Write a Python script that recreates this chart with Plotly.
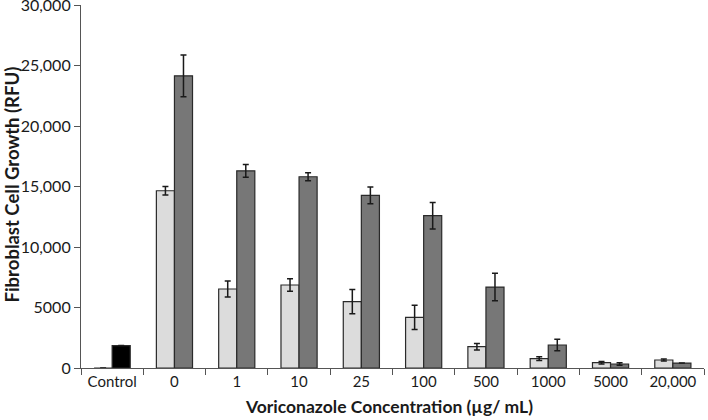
import plotly.graph_objects as go

categories = ["Control", "0", "1", "10", "25", "100", "500", "1000", "5000", "20,000"]
light_vals = [0, 14650, 6530, 6860, 5480, 4190, 1760, 770, 440, 660]
light_err = [0, 360, 660, 510, 1000, 1000, 275, 150, 100, 90]
dark_vals = [1850, 24150, 16300, 15810, 14270, 12590, 6690, 1900, 330, 410]
dark_err = [0, 1720, 530, 330, 690, 1100, 1140, 470, 100, 0]
dark_colors = ["#000000"] + ["#777777"] * 9

y_tickvals = [0, 5000, 10000, 15000, 20000, 25000, 30000]
y_ticktext = ["0", "5000", "10,000", "15,000", "20,000", "25,000", "30,000"]

font_family = "Lato, 'Open Sans', sans-serif"

fig = go.Figure()
fig.add_trace(go.Bar(
    x=categories, y=light_vals,
    marker=dict(color="#DCDCDC", line=dict(color="#2a2a2a", width=1.2)),
    error_y=dict(type="data", array=light_err, visible=True, color="#1a1a1a", thickness=1.5, width=3),
    showlegend=False,
))
fig.add_trace(go.Bar(
    x=categories, y=dark_vals,
    marker=dict(color=dark_colors, line=dict(color="#2a2a2a", width=1.2)),
    error_y=dict(type="data", array=dark_err, visible=True, color="#1a1a1a", thickness=1.5, width=3),
    showlegend=False,
))

fig.update_layout(
    width=708, height=420,
    margin=dict(l=81, r=4, t=5, b=52),
    paper_bgcolor="white", plot_bgcolor="white",
    barmode="group", bargap=0.42, bargroupgap=0,
    font=dict(family=font_family, size=15, color="#1a1a1a"),
    xaxis=dict(
        type="category", automargin=False,
        showline=True, linecolor="#555555", linewidth=1.2,
        ticks="outside", ticklen=6, tickcolor="#555555",
        tickson="boundaries",
        showgrid=False,
        tickfont=dict(size=15),
    ),
    yaxis=dict(
        range=[0, 30005], automargin=False,
        tickvals=y_tickvals, ticktext=y_ticktext,
        ticklabeloverflow="allow",
        showline=True, linecolor="#555555", linewidth=1.2,
        ticks="outside", ticklen=6, tickcolor="#555555",
        showgrid=False, zeroline=False,
        tickfont=dict(size=16),
    ),
    annotations=[
        dict(text="<b>Voriconazole Concentration (µg/ mL)</b>", xref="paper", yref="paper",
             x=0.494, y=-0.107, xanchor="center", yanchor="middle", showarrow=False,
             font=dict(size=17.5)),
        dict(text="<b>Fibroblast Cell Growth (RFU)</b>", xref="paper", yref="paper",
             x=-0.111, y=0.505, xanchor="center", yanchor="middle", showarrow=False,
             textangle=-90, font=dict(size=18.5)),
    ],
)

fig.write_html("out.html", config={"displayModeBar": False},
               post_script="document.body.style.margin='0';")
